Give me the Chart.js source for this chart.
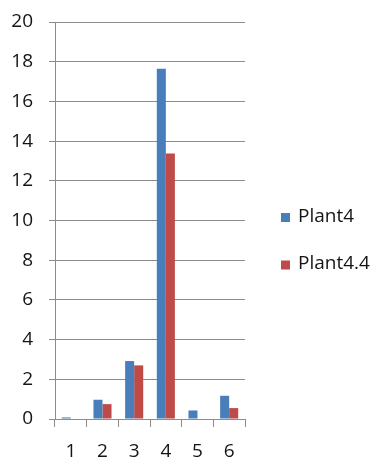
<!DOCTYPE html>
<html>
<head>
<meta charset="utf-8">
<script src="https://cdn.jsdelivr.net/npm/chart.js@4"></script>
<style>
  html, body { margin: 0; padding: 0; background: #ffffff; }
  #wrap { position: relative; width: 375px; height: 457px; }
</style>
</head>
<body>
<div id="wrap"><canvas id="chart"></canvas></div>
<script>
// Categories on the x axis
const categories = ['1', '2', '3', '4', '5', '6'];
// Series values
const plant4 = [0.08, 0.97, 2.92, 17.65, 0.43, 1.17];
const plant44 = [0, 0.75, 2.70, 13.37, 0, 0.55];
// Y axis range / tick step
const yMin = 0;
const yMax = 20;
const yStep = 2;

const FONT = '"Open Sans", "Noto Sans", sans-serif';
const TEXT = '#141414';
const GRID = '#8c8c8c';

// Legend drawn to the right of the plot, one row per dataset
const sideLegend = {
  id: 'sideLegend',
  afterDraw(chart) {
    const ctx = chart.ctx;
    const x0 = chart.chartArea.right + 36;
    const yTop = 217.5;
    const rowGap = 47.5;
    ctx.save();
    ctx.font = '19px ' + FONT;
    ctx.textBaseline = 'middle';
    ctx.textAlign = 'left';
    chart.data.datasets.forEach((ds, i) => {
      const cy = yTop + i * rowGap;
      ctx.fillStyle = ds.backgroundColor;
      ctx.fillRect(x0, cy - 4.5, 9, 9);
      ctx.fillStyle = TEXT;
      ctx.fillText(ds.label, x0 + 17, cy - 1);
    });
    ctx.restore();
  }
};

new Chart(document.getElementById('chart'), {
  type: 'bar',
  data: {
    labels: categories,
    datasets: [
      { label: 'Plant4', data: plant4, backgroundColor: '#4a7ebb', borderWidth: 0 },
      { label: 'Plant4.4', data: plant44, backgroundColor: '#be4b48', borderWidth: 0 }
    ]
  },
  plugins: [sideLegend],
  options: {
    responsive: true,
    maintainAspectRatio: false,
    animation: false,
    datasets: { bar: { categoryPercentage: 0.571, barPercentage: 1 } },
    layout: { padding: { left: 0, top: 22, right: 130, bottom: 0 } },
    plugins: {
      tooltip: { enabled: false },
      legend: { display: false }
    },
    scales: {
      x: {
        offset: true,
        afterFit(scale) {
          scale.height = 38;
          scale.paddingLeft = 0;
          scale.paddingRight = 0;
        },
        grid: {
          offset: true,
          drawOnChartArea: false,
          drawTicks: true,
          tickLength: 8,
          color: GRID,
          lineWidth: 1
        },
        border: { display: true, color: GRID },
        ticks: { font: { family: FONT, size: 19 }, color: TEXT, padding: 13 }
      },
      y: {
        min: yMin,
        max: yMax,
        afterFit(scale) {
          scale.width = 55;
          scale.paddingTop = 0;
          scale.paddingBottom = 0;
        },
        grid: { color: GRID, lineWidth: 1, drawTicks: true, tickLength: 6 },
        border: { display: true, color: GRID },
        ticks: { stepSize: yStep, font: { family: FONT, size: 19 }, color: TEXT, padding: 16 }
      }
    }
  }
});
</script>
</body>
</html>
